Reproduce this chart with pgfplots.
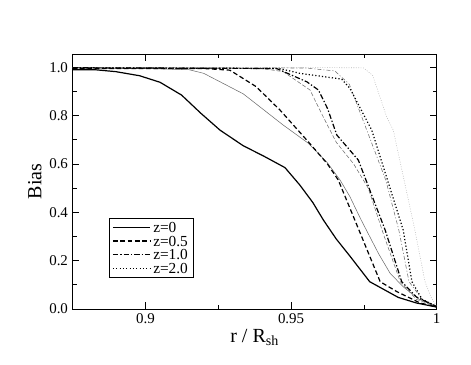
\documentclass[border=0pt]{standalone}
\usepackage{pgfplots}
\pgfplotsset{compat=1.18}
\usepackage{fontspec}
\setmainfont{Liberation Serif}
\begin{document}
\begin{tikzpicture}
\useasboundingbox (-54.5pt,-41.25pt) rectangle (298.75pt,231.75pt);
\begin{axis}[
  at={(0,0)}, anchor=south west,
  scale only axis, width=273pt, height=191.25pt,
  xmin=0.875, xmax=1.0, ymin=0, ymax=1.055,
  xtick={0.9,0.95,1}, xticklabels={0.9,0.95,1},
  minor xtick={0.875,0.925,0.975},
  ytick={0,0.2,0.4,0.6,0.8,1.0},
  minor ytick={0.1,0.3,0.5,0.7,0.9},
  yticklabel style={/pgf/number format/.cd,fixed,fixed zerofill,precision=1},
  /pgf/number format/assume math mode=true,
  tick align=inside,
  major tick length=5pt, minor tick length=3pt,
  tick style={black, line width=0.5pt},
  axis line style={line width=0.6pt},
  ticklabel style={font=\fontsize{11.2}{12}\selectfont},
  xlabel={r / R\textsubscript{sh}},
  ylabel={Bias},
  label style={font=\fontsize{15}{16}\selectfont},
  xlabel style={yshift=3pt},
  ylabel style={yshift=-1pt},
  legend style={at={(0.1005,0.356)}, anchor=north west, draw=black, line width=0.5pt,
    font=\fontsize{11.5}{11}\selectfont, inner xsep=2pt, inner ysep=1.5pt, row sep=0pt,
    nodes={inner ysep=1.3pt, text height=7.6pt, text depth=0pt},
    cells={anchor=west}},
  legend image post style={line width=0.9pt},
  legend image code/.code={\draw[#1] (0cm,0cm) -- (0.98cm,0cm);},
]
% thin gray curves
\addplot[gray!85!black, line width=0.4pt, forget plot] coordinates {
(0.875,0.997) (0.900,0.995) (0.915,0.990) (0.920,0.975) (0.9336,0.890) (0.9473,0.761)
(0.9559,0.686) (0.9622,0.609) (0.9668,0.534) (0.9702,0.465) (0.9740,0.370) (0.9800,0.230)
(0.9840,0.148) (0.9885,0.092) (0.994,0.040) (1.0,0.010)};
\addplot[gray!85!black, line width=0.4pt, dash pattern=on 3pt off 1.5pt, forget plot] coordinates {
(0.875,0.998) (0.940,0.995) (0.9473,0.982) (0.9565,0.906) (0.961,0.796) (0.9655,0.690)
(0.9715,0.600) (0.9765,0.500) (0.9820,0.300) (0.9875,0.113) (0.993,0.040) (1.0,0.010)};
\addplot[gray!85!black, line width=0.4pt, dash pattern=on 3pt off 1.5pt on 0.8pt off 1.5pt, forget plot] coordinates {
(0.875,0.999) (0.955,0.997) (0.965,0.985) (0.970,0.930) (0.976,0.740) (0.9825,0.534)
(0.9870,0.327) (0.9905,0.113) (0.995,0.040) (1.0,0.010)};
\addplot[gray!60, line width=0.4pt, dash pattern=on 0.6pt off 1.2pt, forget plot] coordinates {
(0.875,1.0) (0.9748,0.998) (0.978,0.967) (0.9828,0.796) (0.9851,0.740) (0.9888,0.534)
(0.9925,0.327) (0.996,0.113) (0.998,0.050) (1.0,0.010)};
% thick black curves
\addplot[black, line width=0.9pt] coordinates {
(0.875,0.990) (0.8826,0.990) (0.8898,0.982) (0.898,0.965) (0.905,0.938) (0.9124,0.885)
(0.919,0.810) (0.9256,0.740) (0.9335,0.676) (0.9410,0.630) (0.9479,0.585) (0.953,0.513)
(0.9575,0.440) (0.9611,0.368) (0.9655,0.290) (0.9702,0.219) (0.977,0.113) (0.9868,0.048)
(0.993,0.025) (1.0,0.008)};
\addlegendentry{z=0}
\addplot[black, line width=0.9pt, dash pattern=on 3.5pt off 2pt] coordinates {
(0.875,0.995) (0.920,0.995) (0.929,0.988) (0.938,0.920) (0.9462,0.823) (0.9559,0.692)
(0.9625,0.600) (0.9662,0.534) (0.9733,0.327) (0.9806,0.113) (0.9863,0.072) (0.9943,0.025)
(1.0,0.008)};
\addlegendentry{z=0.5}
\addplot[black, line width=0.9pt, dash pattern=on 4pt off 1.5pt on 1pt off 1.5pt] coordinates {
(0.875,0.998) (0.945,0.995) (0.9554,0.940) (0.9594,0.906) (0.9625,0.830) (0.9657,0.720)
(0.9731,0.616) (0.9757,0.534) (0.9823,0.327) (0.9880,0.113) (0.993,0.050) (1.0,0.010)};
\addlegendentry{z=1.0}
\addplot[black, line width=0.9pt, dash pattern=on 0.9pt off 1.6pt] coordinates {
(0.875,0.998) (0.946,0.995) (0.953,0.975) (0.9674,0.951) (0.9702,0.913) (0.9777,0.740)
(0.9831,0.534) (0.9885,0.327) (0.9915,0.113) (0.995,0.040) (1.0,0.010)};
\addlegendentry{z=2.0}
\end{axis}
\end{tikzpicture}
\end{document}
